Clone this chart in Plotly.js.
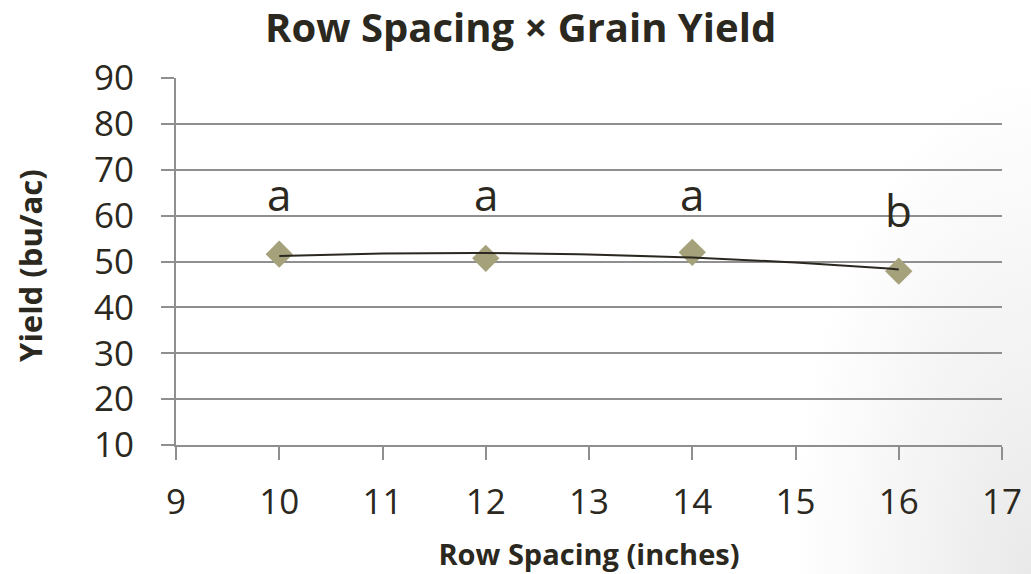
<!DOCTYPE html>
<html>
<head>
<meta charset="utf-8">
<script src="https://cdn.plot.ly/plotly-3.0.1.min.js"></script>
<style>
  html, body { margin: 0; padding: 0; }
  body { width: 1031px; height: 574px; background: #ffffff; }
  #bg { position: absolute; left: 0; top: 0; width: 1031px; height: 574px;
        background: radial-gradient(ellipse 240px 500px at 100% 100%, #e9e9e9 0%, #f3f3f3 45%, rgba(255,255,255,0) 100%); }
  #chart { position: absolute; left: 0; top: 0; width: 1031px; height: 574px; }
</style>
</head>
<body>
<div id="bg"></div>
<div id="chart"></div>
<script>
// Data
const rowSpacing = [10, 12, 14, 16];
const yieldBuAc = [51.6, 50.7, 52.0, 47.9];
const letters = ['a', 'a', 'a', 'b'];
const letterY = [60.8, 60.8, 60.8, 57.3];
const xTicks = [9, 10, 11, 12, 13, 14, 15, 16, 17];
const yTicks = [10, 20, 30, 40, 50, 60, 70, 80, 90];

// Second-order polynomial trendline (least squares) from the data
function polyFit2(xs, ys) {
  const n = xs.length;
  let s = [0, 0, 0, 0, 0], t = [0, 0, 0];
  for (let i = 0; i < n; i++) {
    const x = xs[i], y = ys[i];
    for (let k = 0; k < 5; k++) s[k] += Math.pow(x, k);
    for (let k = 0; k < 3; k++) t[k] += y * Math.pow(x, k);
  }
  const A = [[s[0], s[1], s[2]], [s[1], s[2], s[3]], [s[2], s[3], s[4]]];
  const b = t.slice();
  for (let i = 0; i < 3; i++) {
    for (let j = i + 1; j < 3; j++) {
      const f = A[j][i] / A[i][i];
      for (let k = i; k < 3; k++) A[j][k] -= f * A[i][k];
      b[j] -= f * b[i];
    }
  }
  const c = [0, 0, 0];
  for (let i = 2; i >= 0; i--) {
    let sum = b[i];
    for (let k = i + 1; k < 3; k++) sum -= A[i][k] * c[k];
    c[i] = sum / A[i][i];
  }
  return c;
}
const coef = polyFit2(rowSpacing, yieldBuAc);
const trendX = [], trendY = [];
const x0 = rowSpacing[0], x1 = rowSpacing[rowSpacing.length - 1];
for (let i = 0; i <= 60; i++) {
  const x = x0 + (x1 - x0) * i / 60;
  trendX.push(x);
  trendY.push(coef[0] + coef[1] * x + coef[2] * x * x);
}

const textColor = '#2B2820';
const gridColor = '#8f8f8f';
const fontFam = '"Open Sans", Lato, sans-serif';

const traces = [
  {
    x: rowSpacing, y: yieldBuAc, type: 'scatter', mode: 'markers',
    marker: { symbol: 'diamond', size: 21, color: '#A5A27B', line: { width: 0 } },
    hoverinfo: 'x+y', showlegend: false
  },
  {
    x: trendX, y: trendY, type: 'scatter', mode: 'lines',
    line: { color: '#2A2820', width: 2 },
    hoverinfo: 'skip', showlegend: false
  }
];

const annotations = rowSpacing.map((x, i) => ({
  x: x, y: letterY[i], xref: 'x', yref: 'y',
  text: letters[i], showarrow: false,
  xanchor: 'center', yanchor: 'bottom', yshift: -14,
  font: { family: fontFam, size: 44, color: textColor }
}));
// y-axis title placed as a rotated paper annotation (closer to the page edge)
annotations.push({
  xref: 'paper', yref: 'paper', x: -0.177, y: 0.49,
  xanchor: 'center', yanchor: 'middle', textangle: -90,
  text: '<b>Yield (bu/ac)</b>', showarrow: false,
  font: { family: fontFam, size: 31, color: textColor }
});

const layout = {
  width: 1031, height: 574,
  paper_bgcolor: 'rgba(0,0,0,0)', plot_bgcolor: 'rgba(0,0,0,0)',
  margin: { l: 176, r: 29, t: 78, b: 129, pad: 0 },
  title: {
    text: '<b>Row Spacing × Grain Yield</b>',
    x: 0.505, xanchor: 'center', y: 0.952, yanchor: 'middle',
    font: { family: fontFam, size: 40, color: textColor }
  },
  xaxis: {
    range: [9, 17], tickvals: xTicks, ticktext: xTicks.map(String),
    showgrid: false, zeroline: false,
    showline: true, linecolor: gridColor, linewidth: 2,
    ticks: 'outside', ticklen: 13, tickwidth: 2, tickcolor: gridColor,
    ticklabelstandoff: 12,
    tickfont: { family: fontFam, size: 35, color: textColor },
    title: { text: '<b>Row Spacing (inches)</b>', standoff: 22,
      font: { family: fontFam, size: 29, color: textColor } }
  },
  yaxis: {
    range: [10, 90], tickvals: yTicks, ticktext: yTicks.map(String),
    showgrid: true, gridcolor: gridColor, gridwidth: 2, zeroline: false,
    showline: true, linecolor: gridColor, linewidth: 2,
    ticks: 'outside', ticklen: 13, tickwidth: 2, tickcolor: gridColor,
    ticklabelstandoff: 20,
    tickfont: { family: fontFam, size: 35, color: textColor }
  },
  annotations: annotations
};

Plotly.newPlot('chart', traces, layout, { displayModeBar: false, staticPlot: true });
</script>
</body>
</html>
